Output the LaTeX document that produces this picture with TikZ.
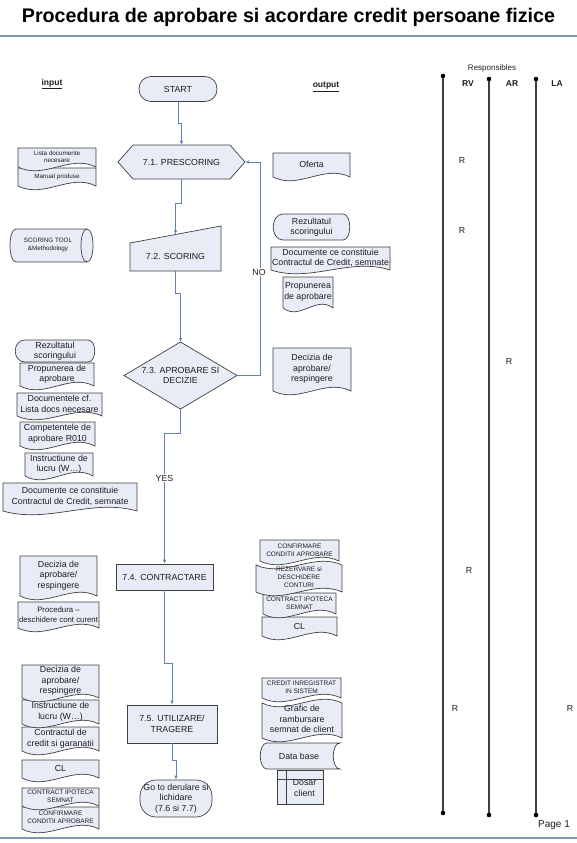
\documentclass[tikz,border=0pt]{standalone}
\usepackage{fontspec}
\setmainfont{Liberation Sans}
\usetikzlibrary{arrows.meta}
\definecolor{boxfill}{RGB}{232,236,247}
\definecolor{boxline}{RGB}{64,64,64}
\definecolor{connc}{RGB}{100,128,185}
\definecolor{rulec}{RGB}{125,150,185}
\definecolor{txt}{RGB}{30,30,30}
\tikzset{
  shp/.style={draw=boxline, fill=boxfill, line width=0.7pt},
  lbl/.style={inner sep=0pt, align=center, text=txt, font=\fontsize{8.8}{10.5}\selectfont},
  lblsm/.style={inner sep=0pt, align=center, text=txt, font=\fontsize{7.8}{10}\selectfont},
  tinyl/.style={inner sep=0pt, align=center, text=txt, font=\fontsize{6.3}{7.3}\selectfont},
  capl/.style={inner sep=0pt, align=center, text=txt, font=\fontsize{6.5}{7.8}\selectfont},
  conn/.style={draw=connc, line width=0.8pt, -{Latex[length=4pt,width=3.5pt]}},
  resp/.style={draw=boxline, line width=1.2pt},
  head/.style={inner sep=0pt, text=txt, font=\fontsize{8.5}{10}\selectfont\bfseries},
}
% document shape: name, x1, y1, x2, y2, style, text
\newcommand{\docb}[7]{%
  \draw[shp] (#2,#3) -- (#4,#3) -- (#4,{#5-4}) .. controls ({#2+2*(#4-#2)/3},{#5-17}) and ({#2+(#4-#2)/3},{#5+9}) .. (#2,{#5-4}) -- cycle;
  \node[#6] (#1) at ({(#2+#4)/2},{(#3+#5)/2-2.5}) {#7};}
% punched tape shape
\newcommand{\tapeb}[7]{%
  \draw[shp] (#2,{#3+4}) .. controls ({#2+(#4-#2)/3},{#3+17}) and ({#2+2*(#4-#2)/3},{#3-9}) .. (#4,{#3+4}) -- (#4,{#5-4}) .. controls ({#2+2*(#4-#2)/3},{#5-17}) and ({#2+(#4-#2)/3},{#5+9}) .. (#2,{#5-4}) -- cycle;
  \node[#6] (#1) at ({(#2+#4)/2},{(#3+#5)/2-1.5}) {#7};}
% stored data shape
\newcommand{\storeb}[7]{%
  \draw[shp] ({#2+7},#3) -- (#4,#3) .. controls ({#4-9},#3) and ({#4-9},#5) .. (#4,#5) -- ({#2+7},#5) .. controls ({#2-2},#5) and ({#2-2},#3) .. ({#2+7},#3) -- cycle;
  \node[#6] (#1) at ({(#2+#4)/2-1},{(#3+#5)/2}) {#7};}
% rounded (display-like) shape
\newcommand{\roundb}[7]{%
  \draw[shp] ({#2+10},#3) -- ({#4-7},#3) .. controls ({#4+2},#3) and ({#4+2},#5) .. ({#4-7},#5) -- ({#2+10},#5) .. controls ({#2-3},#5) and ({#2-3},#3) .. ({#2+10},#3) -- cycle;
  \node[#6] (#1) at ({(#2+#4)/2},{(#3+#5)/2}) {#7};}
\begin{document}
\begin{tikzpicture}[x=1pt,y=-1pt]
\useasboundingbox (0,0) rectangle (577,843);
\fill[white] (0,0) rectangle (577,843);

% title
\node[inner sep=0pt, text=black, font=\fontsize{19.7}{22}\selectfont\bfseries] (title) at (288.5,17) {Procedura de aprobare si acordare credit persoane fizice};
\draw[rulec, line width=1.5pt] (0,36) -- (577,36);
\draw[rulec, line width=1.5pt] (0,838) -- (577,838);

% headers
\node[head] (inp) at (52,84) {\underline{input}};
\node[head] (outp) at (326,87) {\underline{output}};

% ---------- main flow ----------
\node[shp, lbl, rounded corners=12pt, minimum width=78pt, minimum height=25pt] (start) at (178,89) {START};

\draw[shp] (118,162) -- (133,145) -- (230,145) -- (245,162) -- (230,179) -- (133,179) -- cycle;
\node[lbl, minimum width=127pt, minimum height=34pt] (pre) at (181.5,162) {7.1. PRESCORING};

\draw[shp] (130,243) -- (221,226) -- (221,271) -- (130,271) -- cycle;
\node[lbl, minimum width=91pt, minimum height=45pt] (sc) at (175.5,248.5) {};
\node[lbl] (sctxt) at (175.5,256) {7.2. SCORING};

\draw[shp] (180.5,342) -- (237,375.5) -- (180.5,409) -- (124,375.5) -- cycle;
\node[lbl, minimum width=113pt, minimum height=67pt] (dia) at (180.5,375.5) {7.3. APROBARE SI\\DECIZIE};

\node[shp, lbl, minimum width=97pt, minimum height=26pt] (con) at (164.5,577) {7.4. CONTRACTARE};
\node[shp, lbl, minimum width=90pt, minimum height=38pt] (util) at (172,724) {7.5. UTILIZARE/\\TRAGERE};
\node[shp, lbl, rounded corners=16pt, minimum width=72pt, minimum height=37pt] (goto) at (176,798.5) {Go to derulare si\\lichidare\\(7.6 si 7.7)};

% connectors
\draw[conn] (start.south) -- ++(0,22) -| (pre.north);
\draw[conn] (pre.south) -- ++(0,24) -| ([yshift=-8.5pt]sc.north);
\draw[conn] (sc.south) -- ++(0,22) -| (dia.north);
\draw[conn] (dia.south) -- ++(0,24) -| (con.north);
\draw[conn] (dia.east) -- ++(23,0) |- (pre.east);
\draw[conn] (con.south) -- ++(0,73) -| (util.north);
\draw[conn] (util.south) -- ++(0,17) -| (goto.north);
\node[lbl, fill=white, inner sep=1pt] (no) at (259,272) {NO};
\node[lbl, fill=white, inner sep=1pt] (yes) at (164.5,478) {YES};

% ---------- input column ----------
\docb{manual}{18}{168}{96}{190}{tinyl}{Manual produse}
\docb{lista}{18}{148}{96}{171}{tinyl}{Lista documente\\necesare}

\draw[shp] (16,229) -- (87,229) .. controls (95,229) and (95,262) .. (87,262) -- (16,262) .. controls (8,262) and (8,229) .. (16,229) -- cycle;
\draw[draw=boxline, line width=0.7pt] (87,229) .. controls (79,229) and (79,262) .. (87,262);
\node[tinyl] (tool) at (48,245) {SCORING TOOL\\\&Methodology};

\roundb{rez1}{15}{340}{95}{362}{lbl}{Rezultatul\\scoringului}
\docb{prop1}{20}{363}{94}{390}{lbl}{Propunerea de\\aprobare}
\docb{docs1}{17}{393}{102}{420}{lbl}{Documentele cf.\\Lista docs necesare}
\docb{comp1}{20}{422}{95}{450}{lbl}{Competentele de\\aprobare R010}
\docb{instr1}{25}{453}{93}{480}{lbl}{Instructiune de\\lucru (W…)}
\docb{contr1}{3}{483}{137}{515}{lbl}{Documente ce constituie\\Contractul de Credit, semnate}

\docb{proc2}{18}{602}{99}{632}{lblsm}{Procedura –\\deschidere cont curent}
\docb{dec2}{20}{556}{97}{600}{lbl}{Decizia de\\aprobare/\\respingere}

\docb{conf3}{22}{807}{99}{833}{capl}{CONFIRMARE\\CONDITII APROBARE}
\docb{ipo3}{22}{788}{99}{810}{capl}{CONTRACT IPOTECA\\SEMNAT}
\docb{cl3}{22}{760}{99}{782}{lbl}{CL}
\docb{contr3}{22}{727}{99}{755}{lbl}{Contractul de\\credit si garanatii}
\docb{instr3}{22}{700}{99}{728}{lbl}{Instructiune de\\lucru (W…)}
\docb{dec3}{22}{665}{99}{702}{lbl}{Decizia de\\aprobare/\\respingere}

% ---------- output column ----------
\docb{ofer}{273}{153}{350}{181}{lbl}{Oferta}
\roundb{rez2}{273}{214}{350}{240}{lbl}{Rezultatul\\scoringului}
\docb{contr2}{271}{247}{390}{274}{lbl}{Documente ce constituie\\Contractul de Credit, semnate}
\docb{prop2}{283}{277}{333}{312}{lbl}{Propunerea\\de aprobare}
\docb{dec4}{273}{348}{351}{395}{lbl}{Decizia de\\aprobare/\\respingere}

\docb{cl4}{262}{617}{337}{640}{lbl}{CL}
\docb{ipo4}{263}{593}{336}{618}{capl}{CONTRACT IPOTECA\\SEMNAT}
\tapeb{rez4}{256}{561}{342}{596}{capl}{REZERVARE si\\DESCHIDERE\\CONTURI}
\docb{conf4}{260}{540}{339}{565}{capl}{CONFIRMARE\\CONDITII APROBARE}

\draw[shp] (277,770) rectangle (323,804);
\draw[draw=boxline, line width=0.7pt] (286,770) -- (286,804) (277,779) -- (323,779);
\node[lbl] (dosar) at (304.5,788) {Dosar\\client};
\storeb{db}{260}{743}{340}{769}{lbl}{Data base}
\tapeb{graf}{262}{699}{342}{742}{lbl}{Grafic de\\rambursare\\semnat de client}
\docb{cred}{262}{678}{341}{702}{capl}{CREDIT INREGISTRAT\\IN SISTEM}

% ---------- responsibles ----------
\node[inner sep=0pt, text=txt, font=\fontsize{8}{9}\selectfont] (respt) at (492,68) {Responsibles};
\node[head] (rv) at (468,84) {RV};
\node[head] (ar) at (512,84) {AR};
\node[head] (la) at (557,84) {LA};
\coordinate (rvt) at (443,76);
\coordinate (rvb) at (443,813);
\coordinate (art) at (489,79);
\coordinate (arb) at (489,815);
\coordinate (lat) at (536,79);
\coordinate (lab) at (536,815);
\draw[resp] (rvt) -- (rvb);
\draw[resp] (art) -- (arb);
\draw[resp] (lat) -- (lab);
\foreach \p in {rvt,rvb,art,arb,lat,lab} \fill[black] (\p) circle (2.3pt);

\node[lbl] (r1) at (462,160) {R};
\node[lbl] (r2) at (462,230) {R};
\node[lbl] (r3) at (509,361) {R};
\node[lbl] (r4) at (469,570) {R};
\node[lbl] (r5) at (455,708) {R};
\node[lbl] (r6) at (570,708) {R};

\node[inner sep=0pt, text=txt, font=\fontsize{10}{12}\selectfont] (page) at (554,825) {Page 1};
\end{tikzpicture}
\end{document}
